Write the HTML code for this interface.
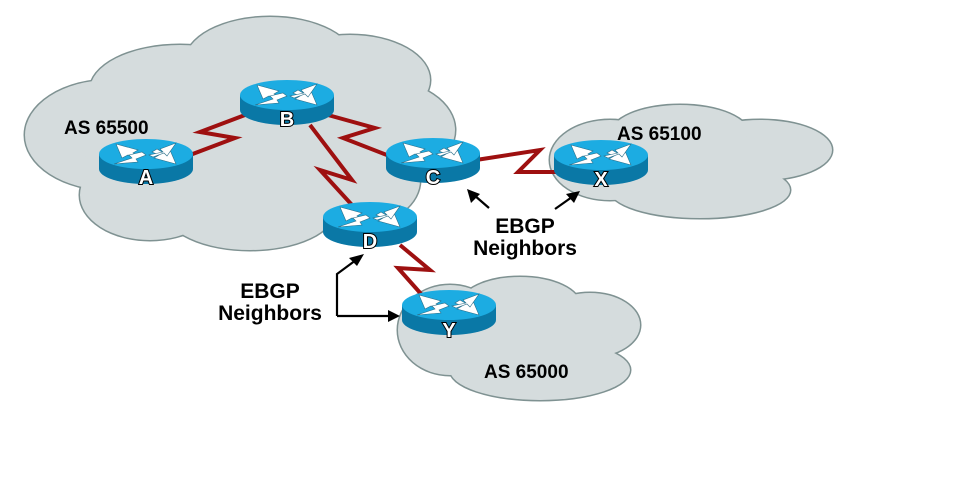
<!DOCTYPE html>
<html><head><meta charset="utf-8"><style>
html,body{margin:0;padding:0;background:#fff;}
svg text{font-family:"Liberation Sans",sans-serif;font-weight:bold;}
</style></head><body>
<svg width="978" height="474" viewBox="0 0 978 474" xmlns="http://www.w3.org/2000/svg">
<defs>
<g id="rt">
  <ellipse cx="0" cy="15" rx="47" ry="15" fill="#0a78a6"/>
  <rect x="-47" y="0" width="94" height="15" fill="#0a78a6"/>
  <ellipse cx="0" cy="0" rx="47" ry="15" fill="#1cacE2"/>
  <g fill="#fff" stroke="#2a6f8a" stroke-width="0.6">
    <polygon points="-30,-10 -8,-4 -13,-1 -6,2 -11,5 -18,1 -24,4"/>
    <polygon points="30,10 8,4 13,1 6,-2 11,-5 18,-1 24,-4"/>
    <polygon points="-32,10 -14,4 -17,1 -4,-2 0,1 -10,5 -8,8"/>
    <polygon points="30,-11 14,-5 17,-2 3,1 7,3 18,-1 21,2"/>
  </g>
</g>
</defs>
<g fill="#d5dcdd" stroke="#7f9292" stroke-width="3">
  <g id="c1">
    <ellipse cx="110" cy="135" rx="85" ry="55"/>
    <ellipse cx="180" cy="90" rx="90" ry="45"/>
    <ellipse cx="270" cy="62" rx="85" ry="45"/>
    <ellipse cx="350" cy="80" rx="80" ry="45"/>
    <ellipse cx="380" cy="130" rx="75" ry="50"/>
    <ellipse cx="360" cy="180" rx="60" ry="45"/>
    <ellipse cx="150" cy="195" rx="70" ry="45"/>
    <ellipse cx="250" cy="210" rx="85" ry="40"/>
    <ellipse cx="230" cy="140" rx="150" ry="60"/>
  </g>
  <g id="c2">
    <ellipse cx="610" cy="160" rx="60" ry="40"/>
    <ellipse cx="680" cy="135" rx="70" ry="30"/>
    <ellipse cx="760" cy="150" rx="72" ry="30"/>
    <ellipse cx="700" cy="190" rx="90" ry="28"/>
    <ellipse cx="690" cy="165" rx="100" ry="35"/>
  </g>
  <g id="c3">
    <ellipse cx="450" cy="330" rx="52" ry="45"/>
    <ellipse cx="520" cy="305" rx="60" ry="28"/>
    <ellipse cx="590" cy="325" rx="50" ry="32"/>
    <ellipse cx="540" cy="370" rx="90" ry="30"/>
    <ellipse cx="520" cy="345" rx="95" ry="35"/>
  </g>
</g>
<g fill="#d5dcdd" stroke="none">
  <use href="#c1"/><use href="#c2"/><use href="#c3"/>
</g>
<g fill="none" stroke="#9e1010" stroke-width="4" stroke-linejoin="miter">
  <polyline points="190,155 235,138 200,132 245,115"/>
  <polyline points="328,115 375,128 343,138 392,157"/>
  <polyline points="310,125 352,180 320,170 352,205"/>
  <polyline points="476,160 540,150 518,172 560,172"/>
  <polyline points="400,245 430,270 398,268 422,295"/>
</g>
<use href="#rt" x="146" y="154"/>
<use href="#rt" x="287" y="95"/>
<use href="#rt" x="433" y="153"/>
<use href="#rt" x="601" y="155"/>
<use href="#rt" x="370" y="217"/>
<use href="#rt" x="449" y="305"/>
<g fill="#fff" stroke="#000" stroke-width="2" paint-order="stroke" font-size="20" text-anchor="middle">
  <text x="146" y="184">A</text>
  <text x="287" y="126">B</text>
  <text x="433" y="184">C</text>
  <text x="601" y="186">X</text>
  <text x="370" y="248">D</text>
  <text x="449" y="337">Y</text>
</g>
<g fill="#000" font-size="19">
  <text x="64" y="134">AS 65500</text>
  <text x="617" y="140">AS 65100</text>
  <text x="484" y="378">AS 65000</text>
</g>
<g fill="#000" font-size="21" text-anchor="middle">
  <text x="525" y="233">EBGP</text>
  <text x="525" y="255">Neighbors</text>
  <text x="270" y="298">EBGP</text>
  <text x="270" y="320">Neighbors</text>
</g>
<g stroke="#000" stroke-width="2.2" fill="none">
  <polyline points="337,316 337,274 356,260"/>
  <line x1="337" y1="316" x2="390" y2="316"/>
  <line x1="489" y1="208" x2="474" y2="195"/>
  <line x1="555" y1="209" x2="572" y2="197"/>
</g>
<g fill="#000">
  <polygon points="364,254 349,258 357,266"/>
  <polygon points="400,316 388,310 388,322"/>
  <polygon points="467,189 471,203 480,194"/>
  <polygon points="580,191 566,194 574,203"/>
</g>
</svg>
</body></html>
